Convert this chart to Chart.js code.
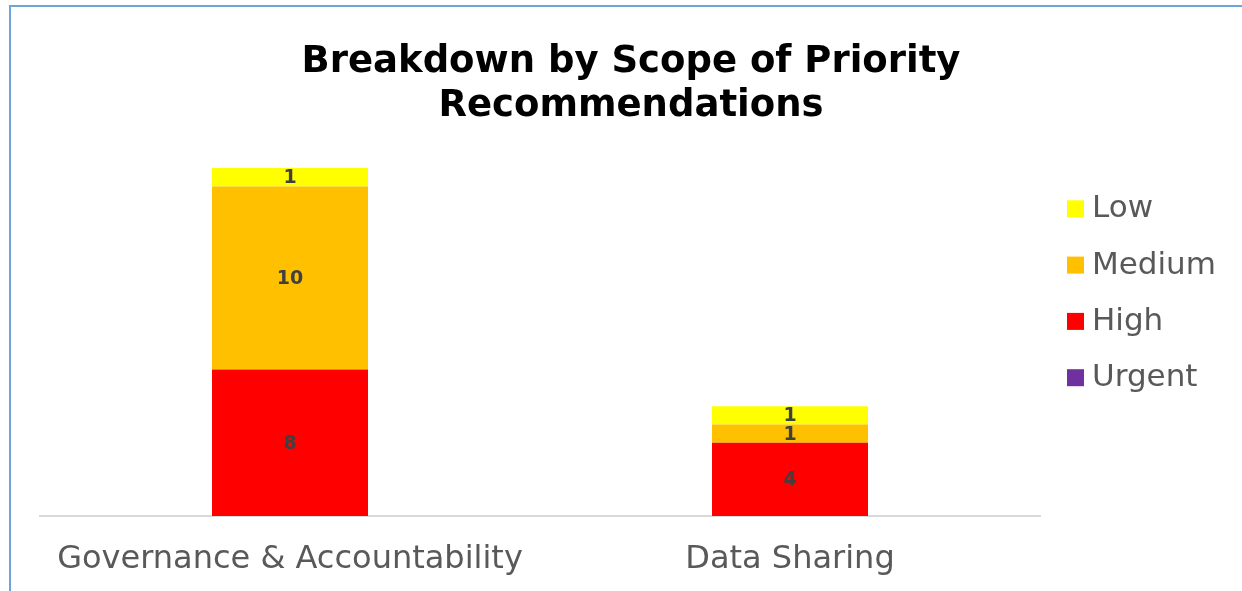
<!DOCTYPE html>
<html>
<head>
<meta charset="utf-8">
<script src="https://cdn.jsdelivr.net/npm/chart.js@4.4.0/dist/chart.umd.min.js"></script>
<style>
  html, body { margin: 0; padding: 0; background: #ffffff; overflow: hidden; }
  #frame { position: absolute; left: 9px; top: 5px; width: 3000px; height: 3000px; border-left: 2px solid #6fa3dc; border-top: 2px solid #6fa3dc; }
  #c { position: absolute; left: 0; top: 0; }
</style>
</head>
<body>
<div id="frame"></div>
<canvas id="c" width="1242" height="591"></canvas>
<script>
const categories = ['Governance & Accountability', 'Data Sharing'];
const seriesNames = ['Urgent', 'High', 'Medium', 'Low'];
const urgentValues = [0, 0];
const highValues = [8, 4];
const mediumValues = [10, 1];
const lowValues = [1, 1];
const seriesColors = ['#7030a0', '#ff0000', '#ffc000', '#ffff00'];
const titleLines = ['Breakdown by Scope of Priority', 'Recommendations'];

const FONT = "'DejaVu Sans', Verdana, sans-serif";
const values = [urgentValues, highValues, mediumValues, lowValues];

const dataLabels = {
  id: 'dataLabels',
  afterDatasetsDraw(chart) {
    const ctx = chart.ctx;
    ctx.save();
    ctx.font = 'bold 19px ' + FONT;
    ctx.fillStyle = '#404040';
    ctx.textAlign = 'center';
    ctx.textBaseline = 'middle';
    chart.data.datasets.forEach((ds, i) => {
      const meta = chart.getDatasetMeta(i);
      meta.data.forEach((el, j) => {
        const v = ds.data[j];
        if (!v) return;
        ctx.fillText(String(v), el.x, (el.y + el.base) / 2 + 1);
      });
    });
    ctx.restore();
  }
};

const sideLegend = {
  id: 'sideLegend',
  afterDraw(chart) {
    const ctx = chart.ctx;
    const area = chart.chartArea;
    const items = chart.data.datasets.map(d => ({ label: d.label, color: d.backgroundColor })).reverse();
    ctx.save();
    ctx.font = '31px ' + FONT;
    ctx.textBaseline = 'middle';
    ctx.textAlign = 'left';
    items.forEach((it, i) => {
      const cy = area.top + 58.5 + i * 56.3;
      const bx = area.right + 27;
      ctx.fillStyle = it.color;
      ctx.fillRect(bx, cy - 8, 17, 17);
      ctx.fillStyle = '#595959';
      ctx.fillText(it.label, bx + 25, cy + 1);
    });
    ctx.restore();
  }
};

new Chart(document.getElementById('c'), {
  type: 'bar',
  data: {
    labels: categories,
    datasets: seriesNames.map((name, i) => ({
      label: name,
      data: values[i],
      backgroundColor: seriesColors[i],
      borderWidth: 0,
      categoryPercentage: 1,
      barPercentage: 0.312
    }))
  },
  options: {
    responsive: false,
    animation: false,
    devicePixelRatio: 1,
    layout: { padding: { left: 40, right: 20, top: 0, bottom: 0 } },
    plugins: {
      legend: { display: false },
      tooltip: { enabled: false },
      title: {
        display: true,
        text: titleLines,
        color: '#000000',
        font: { family: FONT, size: 37, weight: 'bold', lineHeight: 1.2 },
        padding: { top: 40, bottom: 21 }
      }
    },
    scales: {
      x: {
        stacked: true,
        grid: { display: false, drawTicks: false },
        border: { display: true, color: '#d9d9d9', width: 2 },
        ticks: { color: '#595959', font: { family: FONT, size: 32 }, padding: 24, maxRotation: 0, autoSkip: false },
        afterFit(scale) { scale.height = 75; }
      },
      y: {
        stacked: true,
        display: false,
        min: 0,
        max: 20
      },
      yRight: {
        position: 'right',
        display: true,
        grid: { display: false, drawTicks: false },
        border: { display: false },
        ticks: { display: false },
        afterFit(scale) { scale.width = 182; }
      }
    }
  },
  plugins: [dataLabels, sideLegend]
});
</script>
</body>
</html>
